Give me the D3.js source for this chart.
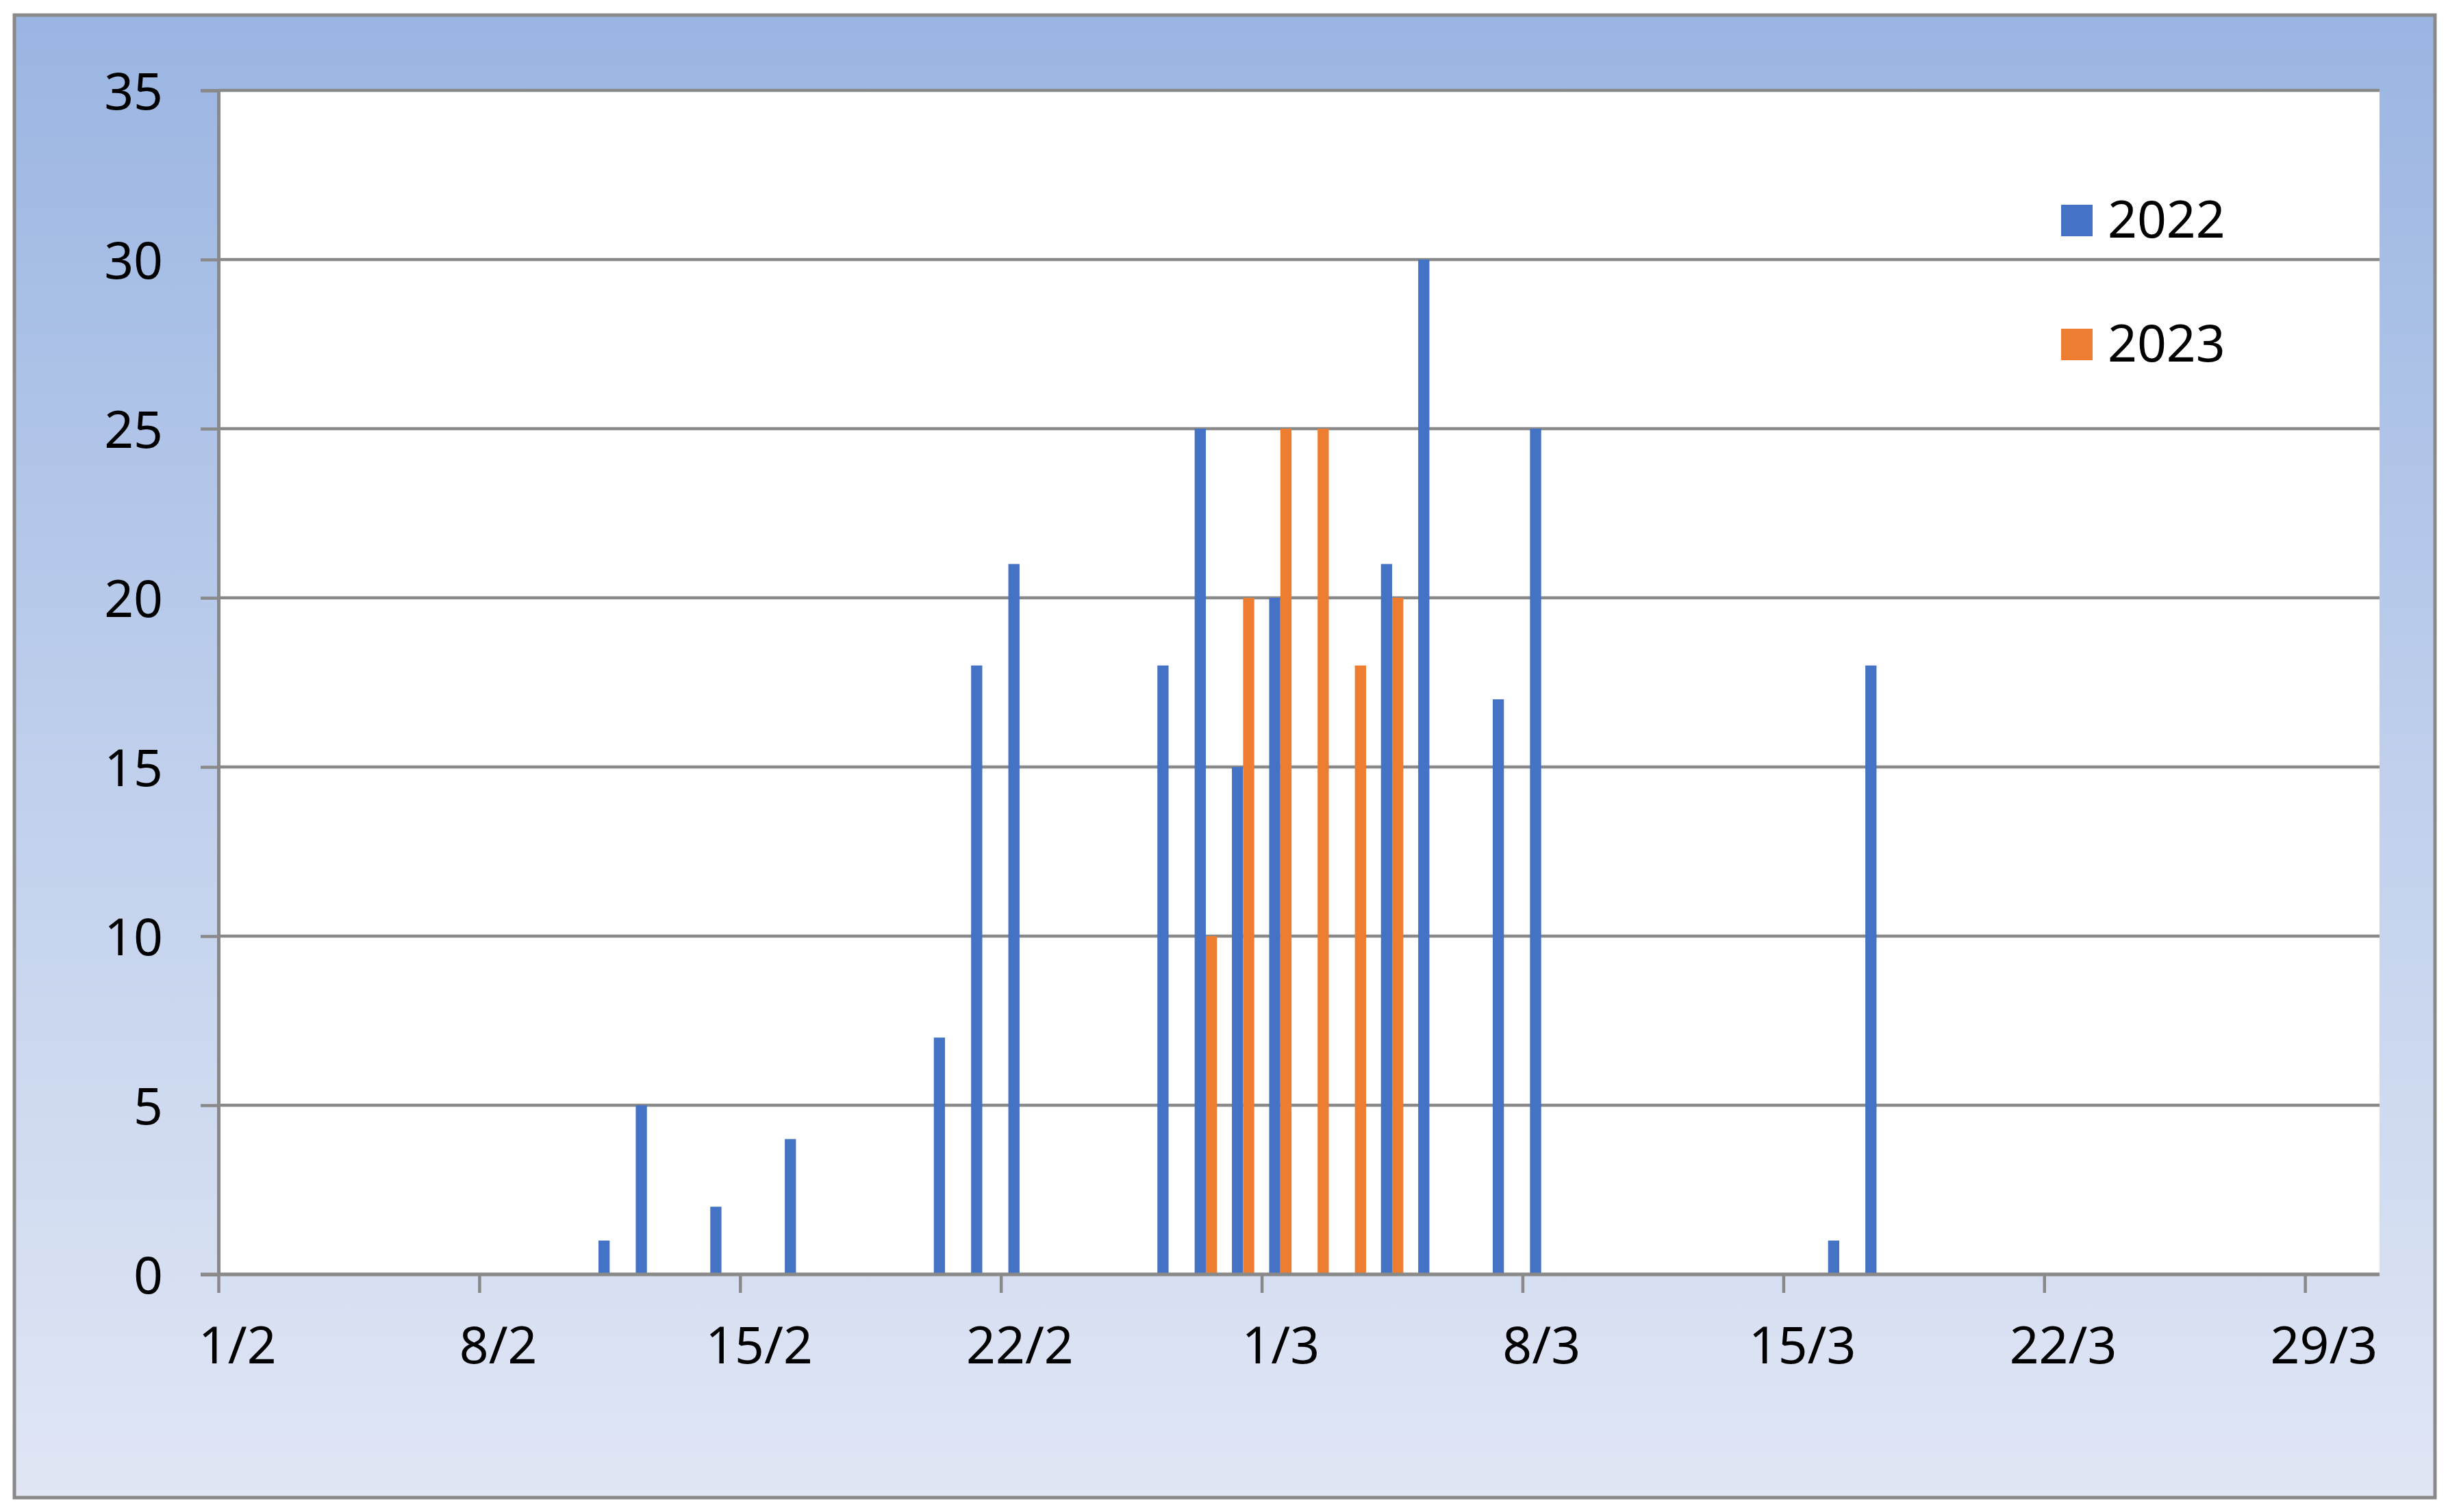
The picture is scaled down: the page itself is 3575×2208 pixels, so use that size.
<!DOCTYPE html>
<html>
<head>
<meta charset="utf-8">
<script src="https://cdn.jsdelivr.net/npm/d3@7"></script>
<style>
  html, body { margin: 0; padding: 0; background: #ffffff; }
  svg { display: block; }
  text { font-family: "Noto Sans", "Open Sans", sans-serif; fill: #000; }
</style>
</head>
<body>
<script>
// ---- data ----
const dates2022 = ["11/2","12/2","14/2","16/2","20/2","21/2","22/2","26/2","27/2","28/2","1/3","4/3","5/3","7/3","8/3","16/3","17/3"];
const values2022 = [1,5,2,4,7,18,21,18,25,15,20,21,30,17,25,1,18];
const dates2023 = ["27/2","28/2","1/3","2/3","3/3","4/3"];
const values2023 = [10,20,25,25,18,20];
const seriesNames = ["2022","2023"];
const seriesColors = ["#4472C4","#ED7D31"];
const xTickLabels = ["1/2","8/2","15/2","22/2","1/3","8/3","15/3","22/3","29/3"];
const yTicks = [0,5,10,15,20,25,30,35];

const W = 3575, H = 2208;
const plot = {left: 319, right: 3475, top: 132, bottom: 1861};

function parseDM(s) {
  const [d, m] = s.split("/").map(Number);
  return new Date(Date.UTC(2023, m - 1, d));
}

const svg = d3.select("body").append("svg").attr("width", W).attr("height", H);
const defs = svg.append("defs");
const grad = defs.append("linearGradient").attr("id", "bg").attr("x1", 0).attr("y1", 0).attr("x2", 0).attr("y2", 1);
grad.append("stop").attr("offset", "0%").attr("stop-color", "#9AB5E2");
grad.append("stop").attr("offset", "50%").attr("stop-color", "#BFCFEC");
grad.append("stop").attr("offset", "100%").attr("stop-color", "#E0E6F4");

// outer frame
svg.append("rect").attr("x", 21).attr("y", 22).attr("width", 3535).attr("height", 2165)
  .attr("fill", "url(#bg)").attr("stroke", "#898989").attr("stroke-width", 5);

// plot area
svg.append("rect").attr("x", plot.left).attr("y", plot.top)
  .attr("width", plot.right - plot.left).attr("height", plot.bottom - plot.top)
  .attr("fill", "#ffffff");

const x = d3.scaleUtc()
  .domain([new Date(Date.UTC(2023, 1, 1)), new Date(Date.UTC(2023, 2, 31))])
  .range([plot.left, plot.right]);
const y = d3.scaleLinear().domain([0, 35]).range([plot.bottom, plot.top]);
const dayW = x(new Date(Date.UTC(2023, 1, 2))) - x(new Date(Date.UTC(2023, 1, 1)));
const barW = dayW * 0.3;

// gridlines
svg.append("g").selectAll("line").data(yTicks).join("line")
  .attr("x1", plot.left).attr("x2", plot.right)
  .attr("y1", d => y(d)).attr("y2", d => y(d))
  .attr("stroke", "#898989").attr("stroke-width", 4.5);

// y axis
const yAxis = svg.append("g").attr("transform", `translate(${plot.left},0)`)
  .call(d3.axisLeft(y).tickValues(yTicks).tickSize(26).tickPadding(55).tickFormat(d3.format("d")));
yAxis.select(".domain").attr("stroke", "#898989").attr("stroke-width", 5);
yAxis.selectAll(".tick line").attr("stroke", "#898989").attr("stroke-width", 4.5);
yAxis.selectAll(".tick text").attr("font-size", 75).attr("dy", "0.36em")
  .style("font-family", "'Noto Sans', sans-serif");

// bars
const bars = svg.append("g");
bars.selectAll("rect.s2022").data(dates2022.map((d, i) => ({d: parseDM(d), v: values2022[i]})))
  .join("rect").attr("class", "s2022")
  .attr("x", d => x(d.d) + dayW / 2 - barW)
  .attr("width", barW)
  .attr("y", d => y(d.v)).attr("height", d => y(0) - y(d.v))
  .attr("fill", seriesColors[0]);
bars.selectAll("rect.s2023").data(dates2023.map((d, i) => ({d: parseDM(d), v: values2023[i]})))
  .join("rect").attr("class", "s2023")
  .attr("x", d => x(d.d) + dayW / 2)
  .attr("width", barW)
  .attr("y", d => y(d.v)).attr("height", d => y(0) - y(d.v))
  .attr("fill", seriesColors[1]);

// x axis
const xTickDates = xTickLabels.map(parseDM);
const xAxis = svg.append("g").attr("transform", `translate(0,${plot.bottom})`)
  .call(d3.axisBottom(x).tickValues(xTickDates).tickSize(27).tickPadding(50)
    .tickFormat((d, i) => xTickLabels[i]));
xAxis.select(".domain").remove();
xAxis.append("line").attr("x1", plot.left - 26).attr("x2", plot.right)
  .attr("y1", 0).attr("y2", 0).attr("stroke", "#898989").attr("stroke-width", 5);
xAxis.selectAll(".tick line").attr("stroke", "#898989").attr("stroke-width", 4.5);
xAxis.selectAll(".tick text").attr("font-size", 75).attr("x", dayW / 2).attr("dy", "0.71em")
  .style("font-family", "'Noto Sans', sans-serif");

// legend
const legend = svg.append("g");
const legendY = [299, 480];
seriesNames.forEach((name, i) => {
  legend.append("rect").attr("x", 3010).attr("y", legendY[i]).attr("width", 46).attr("height", 46)
    .attr("fill", seriesColors[i]);
  legend.append("text").attr("x", 3078).attr("y", legendY[i] + 48)
    .attr("font-size", 75).text(name);
});
</script>
</body>
</html>
